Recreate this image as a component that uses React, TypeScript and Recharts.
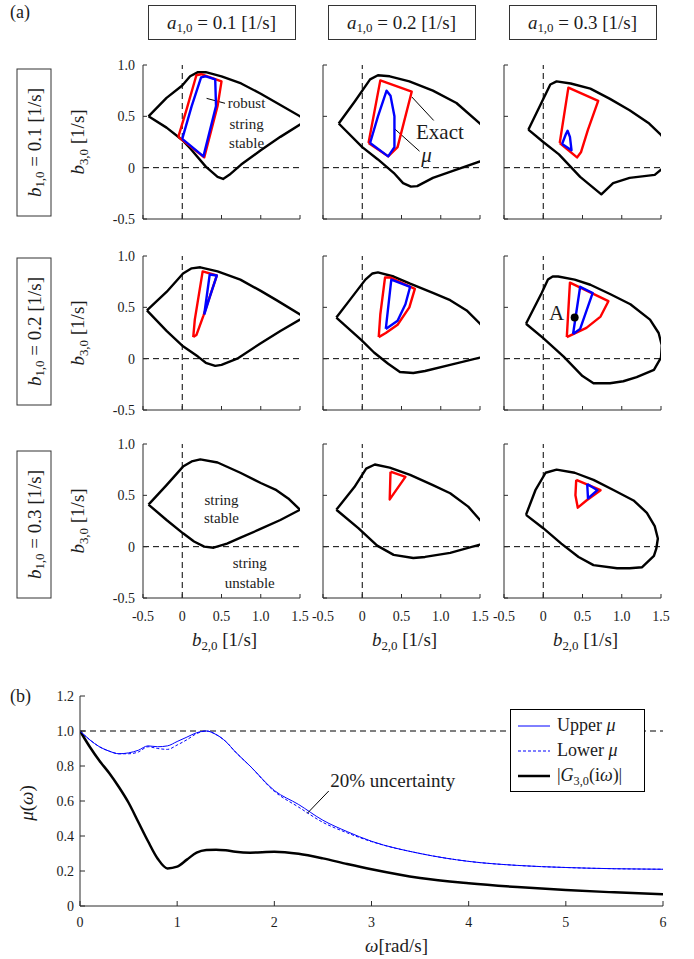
import {
  ComposedChart,
  Legend,
  Line,
  ReferenceLine,
  Scatter,
  ScatterChart,
  XAxis,
  YAxis,
} from "recharts";

const SERIF = "'Liberation Serif', 'DejaVu Serif', serif";
const INK = "#1c1c1c";
const FRAME = "#2b2b2b";
const RED = "#ff0000";
const BLUE = "#0000ff";

type Pair = [number, number];

// (a) boundaries in the (b2,0 , b3,0) plane, each a closed loop
const black11: Pair[] = [[-0.43, 0.5], [-0.2, 0.68], [0, 0.8], [0.1, 0.89], [0.2, 0.93], [0.3, 0.93], [0.5, 0.89], [0.75, 0.82], [1.0, 0.72], [1.25, 0.61], [1.5, 0.5], [1.62, 0.46], [1.5, 0.42], [1.25, 0.3], [1.0, 0.17], [0.75, 0.03], [0.6, -0.07], [0.52, -0.11], [0.45, -0.09], [0.3, 0.01], [0.1, 0.19], [0, 0.27], [-0.2, 0.39], [-0.43, 0.5]];
const red11: Pair[] = [[-0.05, 0.3], [0.06, 0.58], [0.18, 0.9], [0.24, 0.91], [0.5, 0.84], [0.45, 0.6], [0.28, 0.1], [-0.05, 0.3]];
const blue11: Pair[] = [[0, 0.28], [0.12, 0.6], [0.24, 0.88], [0.3, 0.89], [0.42, 0.86], [0.43, 0.6], [0.27, 0.11], [0, 0.28]];

const black12: Pair[] = [[-0.3, 0.43], [-0.1, 0.64], [0.1, 0.86], [0.2, 0.9], [0.35, 0.89], [0.6, 0.84], [0.9, 0.75], [1.2, 0.63], [1.5, 0.43], [1.62, 0.34], [1.62, 0.1], [1.5, 0.06], [1.2, -0.02], [0.9, -0.1], [0.7, -0.18], [0.62, -0.185], [0.52, -0.15], [0.4, -0.05], [0.2, 0.08], [0, 0.2], [-0.3, 0.43]];
const red12: Pair[] = [[0.08, 0.24], [0.23, 0.85], [0.63, 0.74], [0.45, 0.2], [0.33, 0.11], [0.08, 0.24]];
const blue12: Pair[] = [[0.1, 0.24], [0.2, 0.5], [0.31, 0.75], [0.36, 0.7], [0.41, 0.5], [0.41, 0.2], [0.33, 0.11], [0.1, 0.24]];

const black13: Pair[] = [[-0.19, 0.37], [0.09, 0.81], [0.17, 0.84], [0.35, 0.82], [0.6, 0.77], [0.85, 0.67], [1.1, 0.56], [1.35, 0.43], [1.5, 0.32], [1.56, 0.25], [1.56, 0.0], [1.5, -0.02], [1.42, -0.07], [1.1, -0.1], [0.89, -0.15], [0.74, -0.26], [0.47, -0.09], [0.2, 0.13], [0, 0.25], [-0.19, 0.37]];
const red13: Pair[] = [[0.21, 0.24], [0.32, 0.78], [0.7, 0.65], [0.57, 0.37], [0.48, 0.15], [0.43, 0.1], [0.21, 0.24]];
const blue13: Pair[] = [[0.24, 0.23], [0.29, 0.33], [0.31, 0.36], [0.34, 0.3], [0.36, 0.17], [0.24, 0.23]];

const black21: Pair[] = [[-0.45, 0.47], [-0.2, 0.65], [0.01, 0.83], [0.12, 0.88], [0.23, 0.89], [0.45, 0.85], [0.74, 0.77], [1.0, 0.66], [1.2, 0.57], [1.5, 0.43], [1.6, 0.4], [1.5, 0.38], [1.25, 0.27], [1.0, 0.15], [0.7, 0.0], [0.5, -0.06], [0.42, -0.07], [0.3, -0.04], [0.2, 0.02], [0.01, 0.12], [-0.2, 0.27], [-0.45, 0.47]];
const red21: Pair[] = [[0.14, 0.21], [0.16, 0.38], [0.26, 0.85], [0.44, 0.81], [0.27, 0.42], [0.18, 0.23], [0.14, 0.21]];
const blue21: Pair[] = [[0.28, 0.43], [0.35, 0.82], [0.44, 0.81], [0.35, 0.6], [0.28, 0.43]];

const black22: Pair[] = [[-0.33, 0.4], [-0.15, 0.58], [0.04, 0.77], [0.13, 0.83], [0.2, 0.84], [0.4, 0.8], [0.61, 0.73], [0.9, 0.64], [1.12, 0.57], [1.33, 0.47], [1.5, 0.34], [1.6, 0.25], [1.6, 0.03], [1.5, 0.01], [1.12, -0.06], [0.8, -0.12], [0.65, -0.14], [0.48, -0.13], [0.33, -0.05], [0.15, 0.06], [-0.01, 0.18], [-0.33, 0.4]];
const red22: Pair[] = [[0.21, 0.21], [0.23, 0.43], [0.29, 0.79], [0.36, 0.79], [0.67, 0.68], [0.6, 0.5], [0.45, 0.33], [0.3, 0.25], [0.21, 0.21]];
const blue22: Pair[] = [[0.3, 0.29], [0.37, 0.77], [0.61, 0.7], [0.55, 0.53], [0.45, 0.37], [0.3, 0.29]];

const black23: Pair[] = [[-0.22, 0.34], [-0.02, 0.64], [0.06, 0.77], [0.12, 0.8], [0.19, 0.8], [0.4, 0.77], [0.6, 0.72], [0.85, 0.63], [1.11, 0.53], [1.36, 0.38], [1.47, 0.25], [1.51, 0.13], [1.5, 0.01], [1.41, -0.11], [1.19, -0.18], [1.02, -0.22], [0.85, -0.24], [0.64, -0.24], [0.5, -0.17], [0.26, 0.02], [0, 0.2], [-0.22, 0.34]];
const red23: Pair[] = [[0.3, 0.21], [0.34, 0.74], [0.83, 0.56], [0.73, 0.41], [0.55, 0.3], [0.3, 0.21]];
const blue23: Pair[] = [[0.38, 0.24], [0.47, 0.7], [0.63, 0.64], [0.47, 0.29], [0.38, 0.24]];
const pointA: Pair[] = [[0.4, 0.4]];

const black31: Pair[] = [[-0.43, 0.41], [-0.2, 0.6], [0.01, 0.78], [0.12, 0.83], [0.23, 0.85], [0.45, 0.82], [0.74, 0.72], [1.0, 0.62], [1.2, 0.55], [1.35, 0.47], [1.5, 0.36], [1.25, 0.26], [0.99, 0.17], [0.75, 0.09], [0.57, 0.03], [0.4, -0.01], [0.28, 0.0], [0.15, 0.05], [0.01, 0.13], [-0.2, 0.26], [-0.43, 0.41]];

const black32: Pair[] = [[-0.33, 0.36], [-0.1, 0.58], [0.05, 0.76], [0.16, 0.8], [0.35, 0.77], [0.61, 0.7], [0.9, 0.6], [1.12, 0.52], [1.35, 0.39], [1.5, 0.26], [1.6, 0.18], [1.6, 0.04], [1.5, 0.02], [1.12, -0.06], [0.8, -0.1], [0.65, -0.11], [0.4, -0.08], [0.19, 0.01], [-0.05, 0.18], [-0.33, 0.36]];
const red32: Pair[] = [[0.36, 0.73], [0.55, 0.68], [0.35, 0.46], [0.36, 0.73]];

const black33: Pair[] = [[-0.22, 0.31], [-0.1, 0.55], [0.03, 0.72], [0.17, 0.75], [0.4, 0.72], [0.64, 0.65], [0.9, 0.55], [1.15, 0.45], [1.32, 0.33], [1.42, 0.2], [1.46, 0.08], [1.44, -0.02], [1.41, -0.09], [1.26, -0.2], [1.1, -0.21], [0.94, -0.21], [0.64, -0.18], [0.45, -0.1], [0.23, 0.03], [0, 0.18], [-0.22, 0.31]];
const red33: Pair[] = [[0.42, 0.65], [0.73, 0.55], [0.55, 0.45], [0.44, 0.38], [0.41, 0.5], [0.42, 0.65]];
const blue33: Pair[] = [[0.56, 0.61], [0.69, 0.55], [0.57, 0.47], [0.56, 0.61]];

type Note = { x: number; y: number; text: string; size?: number; italic?: boolean; anchor?: string };

const notes11: Note[] = [
  { x: 0.82, y: 0.627, text: "robust" },
  { x: 0.82, y: 0.43, text: "string" },
  { x: 0.82, y: 0.237, text: "stable" },
];
const notes12: Note[] = [
  { x: 0.99, y: 0.35, text: "Exact", size: 21 },
  { x: 0.82, y: 0.12, text: "μ", size: 21, italic: true },
];
const notes23: Note[] = [{ x: 0.17, y: 0.44, text: "A", size: 21 }];
const notes31: Note[] = [
  { x: 0.5, y: 0.455, text: "string" },
  { x: 0.5, y: 0.275, text: "stable" },
  { x: 0.86, y: -0.155, text: "string" },
  { x: 0.86, y: -0.35, text: "unstable" },
];

const leaders11: [Pair, Pair][] = [[[0.31, 0.675], [0.545, 0.627]]];
const leaders12: [Pair, Pair][] = [
  [[0.63, 0.69], [0.91, 0.46]],
  [[0.41, 0.38], [0.73, 0.16]],
];

const b20Ticks = [-0.5, 0, 0.5, 1, 1.5];
const b30Ticks = [-0.5, 0, 0.5, 1];
const a10Values = ["0.1", "0.2", "0.3"];
const b10Values = ["0.1", "0.2", "0.3"];

// (b) structured singular value vs frequency
const omega = [0, 0.1, 0.2, 0.3, 0.4, 0.5, 0.6, 0.7, 0.8, 0.9, 1.0, 1.1, 1.2, 1.3, 1.4, 1.5, 1.6, 1.75, 2.0, 2.25, 2.5, 2.75, 3.0, 3.5, 4.0, 4.5, 5.0, 5.5, 6.0];
const upperMu = [1.0, 0.95, 0.91, 0.885, 0.87, 0.875, 0.89, 0.915, 0.91, 0.915, 0.94, 0.965, 0.99, 1.0, 0.98, 0.94, 0.88, 0.8, 0.66, 0.58, 0.49, 0.425, 0.37, 0.3, 0.255, 0.232, 0.22, 0.213, 0.21];
const lowerMu = [1.0, 0.95, 0.91, 0.885, 0.87, 0.87, 0.88, 0.91, 0.9, 0.895, 0.92, 0.95, 0.985, 1.0, 0.98, 0.94, 0.88, 0.8, 0.655, 0.565, 0.478, 0.418, 0.368, 0.3, 0.255, 0.232, 0.22, 0.213, 0.21];
const gMag = [1.0, 0.91, 0.83, 0.76, 0.68, 0.59, 0.48, 0.37, 0.27, 0.215, 0.225, 0.265, 0.305, 0.32, 0.322, 0.318, 0.31, 0.305, 0.31, 0.298, 0.272, 0.24, 0.21, 0.16, 0.13, 0.108, 0.091, 0.078, 0.067];
const omegaTicks = [0, 1, 2, 3, 4, 5, 6];
const muTicks = [0, 0.2, 0.4, 0.6, 0.8, 1.0, 1.2];
const uncertaintyNote = [{ w: 2.575, y: 0.72, text: "20% uncertainty", size: 19, anchor: "start" }];

// layout of the 3x3 grid (plot area corners in page pixels)
const PLOT_W = 157;
const PLOT_H = 154;
const COL_LEFT = [143, 323, 504];
const ROW_TOP = [65, 256, 444];
const YAW = 44;
const PAD = 6;
const PAD_R = 16;
const XAH = 34;

const toPts = (a: Pair[]) => a.map(([x, y]) => ({ x, y }));
const fmt = (v: number) => (v === 0 ? "0" : v.toFixed(1));
const blank = () => "";
const tickStyle = { fill: INK, fontSize: 14, fontFamily: SERIF };

const Empty = () => <g />;
const Dot = (p: any) => <circle cx={p.cx} cy={p.cy} r={4} fill="#000" />;
const NoteText = (p: any) => {
  const n = p.payload;
  return (
    <text
      x={p.cx}
      y={p.cy}
      textAnchor={n.anchor ?? "middle"}
      dominantBaseline="central"
      fontFamily={SERIF}
      fontSize={n.size ?? 15}
      fontStyle={n.italic ? "italic" : "normal"}
      fill={INK}
    >
      {n.text}
    </text>
  );
};

interface PanelCfg {
  row: number;
  col: number;
  black: Pair[];
  red?: Pair[];
  blue?: Pair[];
  notes?: Note[];
  leaders?: [Pair, Pair][];
  dot?: Pair[];
}

const panels: PanelCfg[] = [
  { row: 0, col: 0, black: black11, red: red11, blue: blue11, notes: notes11, leaders: leaders11 },
  { row: 0, col: 1, black: black12, red: red12, blue: blue12, notes: notes12, leaders: leaders12 },
  { row: 0, col: 2, black: black13, red: red13, blue: blue13 },
  { row: 1, col: 0, black: black21, red: red21, blue: blue21 },
  { row: 1, col: 1, black: black22, red: red22, blue: blue22 },
  { row: 1, col: 2, black: black23, red: red23, blue: blue23, notes: notes23, dot: pointA },
  { row: 2, col: 0, black: black31, notes: notes31 },
  { row: 2, col: 1, black: black32, red: red32 },
  { row: 2, col: 2, black: black33, red: red33, blue: blue33 },
];

function Panel({ cfg }: { cfg: PanelCfg }) {
  const { row, col } = cfg;
  const loops = [
    { data: cfg.black, color: "#000" },
    { data: cfg.red, color: RED },
    { data: cfg.blue, color: BLUE },
  ].filter((l) => l.data);
  return (
    <div style={{ position: "absolute", left: COL_LEFT[col] - YAW, top: ROW_TOP[row] - PAD }}>
      <ScatterChart
        width={YAW + PLOT_W + PAD_R}
        height={PAD + PLOT_H + XAH}
        margin={{ top: PAD, right: PAD_R, bottom: 0, left: 0 }}
      >
        <XAxis
          xAxisId="b"
          type="number"
          dataKey="x"
          domain={[-0.5, 1.5]}
          ticks={b20Ticks}
          interval={0}
          allowDataOverflow
          height={XAH}
          tickSize={-4}
          tickMargin={17}
          tickFormatter={row === 2 ? fmt : blank}
          tick={tickStyle}
          stroke={FRAME}
        />
        <XAxis
          xAxisId="t"
          orientation="top"
          type="number"
          dataKey="x"
          domain={[-0.5, 1.5]}
          ticks={b20Ticks}
          interval={0}
          allowDataOverflow
          height={0}
          tickSize={-4}
          tickFormatter={blank}
          stroke={FRAME}
        />
        <YAxis
          yAxisId="l"
          type="number"
          dataKey="y"
          domain={[-0.5, 1]}
          ticks={b30Ticks}
          interval={0}
          allowDataOverflow
          width={YAW}
          tickSize={-4}
          tickMargin={12}
          tickFormatter={col === 0 ? fmt : blank}
          tick={tickStyle}
          stroke={FRAME}
        />
        <YAxis
          yAxisId="r"
          orientation="right"
          type="number"
          dataKey="y"
          domain={[-0.5, 1]}
          ticks={b30Ticks}
          interval={0}
          allowDataOverflow
          width={0}
          tickSize={-4}
          tickFormatter={blank}
          stroke={FRAME}
        />
        <ReferenceLine xAxisId="b" yAxisId="l" x={0} stroke="#000" strokeDasharray="6 4" />
        <ReferenceLine xAxisId="b" yAxisId="l" y={0} stroke="#000" strokeDasharray="6 4" />
        <Scatter xAxisId="t" yAxisId="r" data={toPts(cfg.black)} shape={Empty} isAnimationActive={false} />
        {loops.map((l, i) => (
          <Scatter
            key={i}
            xAxisId="b"
            yAxisId="l"
            data={toPts(l.data!)}
            fill={l.color}
            line={{ stroke: l.color, strokeWidth: 2.4, strokeLinejoin: "round" }}
            lineType="joint"
            shape={Empty}
            isAnimationActive={false}
          />
        ))}
        {(cfg.leaders ?? []).map((s, i) => (
          <ReferenceLine
            key={`ld${i}`}
            xAxisId="b"
            yAxisId="l"
            segment={[{ x: s[0][0], y: s[0][1] }, { x: s[1][0], y: s[1][1] }]}
            stroke="#000"
            strokeWidth={1}
          />
        ))}
        {cfg.dot && (
          <Scatter xAxisId="b" yAxisId="l" data={toPts(cfg.dot)} shape={Dot} isAnimationActive={false} />
        )}
        {cfg.notes && (
          <Scatter xAxisId="b" yAxisId="l" data={cfg.notes} shape={NoteText} isAnimationActive={false} />
        )}
      </ScatterChart>
    </div>
  );
}

function Sym({ base, sub }: { base: string; sub: string }) {
  return (
    <span>
      <i>{base}</i>
      <span style={{ fontSize: "0.68em", position: "relative", top: "0.3em" }}>{sub}</span>
    </span>
  );
}

const abs = (left: number, top: number, extra: any = {}) => ({
  position: "absolute" as const,
  left,
  top,
  whiteSpace: "nowrap" as const,
  fontFamily: SERIF,
  color: INK,
  ...extra,
});

const BOX_LEN = 148;
const BOX_THK = 35;
const COL_MID = COL_LEFT.map((l) => l + PLOT_W / 2);
const ROW_MID = ROW_TOP.map((t) => t + PLOT_H / 2);
const ROW_BOX_MID = [142, 331.5, 524];

const legendRows = [
  { color: BLUE, width: 1, dash: undefined as string | undefined, label: <>Upper <i>μ</i></> },
  { color: BLUE, width: 1, dash: "3 2", label: <>Lower <i>μ</i></> },
  {
    color: "#000",
    width: 2.5,
    dash: undefined,
    label: (
      <>
        |<Sym base="G" sub="3,0" />(i<i>ω</i>)|
      </>
    ),
  },
];

const MuLegend = () => (
  <div
    style={{
      border: "1px solid #000",
      background: "#fff",
      padding: "3px 6px 3px 6px",
      fontFamily: SERIF,
      fontSize: 18,
      color: INK,
    }}
  >
    {legendRows.map((r, i) => (
      <div key={i} style={{ display: "flex", alignItems: "center", height: 25 }}>
        <svg width={34} height={10} style={{ marginRight: 6 }}>
          <line x1={1} y1={5} x2={33} y2={5} stroke={r.color} strokeWidth={r.width} strokeDasharray={r.dash} />
        </svg>
        <span>{r.label}</span>
      </div>
    ))}
  </div>
);

const B_LEFT = 80;
const B_TOP = 696;
const B_W = 583;
const B_H = 210;
const B_YAW = 45;

function MuChart() {
  const rows = omega.map((w, i) => ({ w, upper: upperMu[i], lower: lowerMu[i], g: gMag[i] }));
  return (
    <div style={{ position: "absolute", left: B_LEFT - B_YAW, top: B_TOP - PAD }}>
      <ComposedChart
        width={B_YAW + B_W + PAD_R}
        height={PAD + B_H + 34}
        data={rows}
        margin={{ top: PAD, right: PAD_R, bottom: 0, left: 0 }}
      >
        <XAxis
          xAxisId="b"
          type="number"
          dataKey="w"
          domain={[0, 6]}
          ticks={omegaTicks}
          interval={0}
          allowDataOverflow
          height={34}
          tickSize={-5}
          tickMargin={16}
          tickFormatter={(v: number) => String(v)}
          tick={tickStyle}
          stroke={FRAME}
        />
        <XAxis
          xAxisId="t"
          orientation="top"
          type="number"
          dataKey="w"
          domain={[0, 6]}
          ticks={omegaTicks}
          interval={0}
          allowDataOverflow
          height={0}
          tickSize={-5}
          tickFormatter={blank}
          stroke={FRAME}
        />
        <YAxis
          yAxisId="l"
          type="number"
          dataKey="y"
          domain={[0, 1.2]}
          ticks={muTicks}
          interval={0}
          allowDataOverflow
          width={B_YAW}
          tickSize={-5}
          tickMargin={11}
          tickFormatter={fmt}
          tick={tickStyle}
          stroke={FRAME}
        />
        <YAxis
          yAxisId="r"
          orientation="right"
          type="number"
          domain={[0, 1.2]}
          ticks={muTicks}
          interval={0}
          allowDataOverflow
          width={0}
          tickSize={-5}
          tickFormatter={blank}
          stroke={FRAME}
        />
        <ReferenceLine xAxisId="b" yAxisId="l" y={1} stroke="#000" strokeDasharray="6 4" />
        <Line xAxisId="t" yAxisId="r" dataKey="g" stroke="none" dot={false} activeDot={false} isAnimationActive={false} legendType="none" />
        <Line xAxisId="b" yAxisId="l" type="monotone" dataKey="g" stroke="#000" strokeWidth={2.5} dot={false} isAnimationActive={false} />
        <Line xAxisId="b" yAxisId="l" type="monotone" dataKey="lower" stroke={BLUE} strokeWidth={1} strokeDasharray="3 2" dot={false} isAnimationActive={false} />
        <Line xAxisId="b" yAxisId="l" type="monotone" dataKey="upper" stroke={BLUE} strokeWidth={1} dot={false} isAnimationActive={false} />
        <ReferenceLine
          xAxisId="b"
          yAxisId="l"
          segment={[{ x: 2.56, y: 0.657 }, { x: 2.34, y: 0.53 }]}
          stroke="#000"
          strokeWidth={1}
        />
        <Scatter xAxisId="b" yAxisId="l" data={uncertaintyNote} shape={NoteText} isAnimationActive={false} />
        <Legend
          layout="vertical"
          align="center"
          verticalAlign="middle"
          content={MuLegend}
          wrapperStyle={{ left: 510 - (B_LEFT - B_YAW), top: 709 - (B_TOP - PAD), width: 135 }}
        />
      </ComposedChart>
    </div>
  );
}

export default function App() {
  return (
    <div style={{ position: "relative", width: 694, height: 959, background: "#fff", overflow: "hidden" }}>
      <style>{"body{margin:0}"}</style>
      <div style={abs(10, 2, { fontSize: 18 })}>(a)</div>
      <div style={abs(10, 686, { fontSize: 18 })}>(b)</div>

      {a10Values.map((v, i) => (
        <div
          key={`a${i}`}
          style={abs(COL_MID[i] - BOX_LEN / 2, 5, {
            width: BOX_LEN - 2,
            height: BOX_THK - 2,
            border: "1px solid #333",
            display: "flex",
            alignItems: "center",
            justifyContent: "center",
            fontSize: 19,
          })}
        >
          <Sym base="a" sub="1,0" />
          &nbsp;= {v} [1/s]
        </div>
      ))}

      {b10Values.map((v, i) => (
        <div
          key={`b${i}`}
          style={abs(33.5 - BOX_LEN / 2, ROW_BOX_MID[i] - BOX_THK / 2, {
            width: BOX_LEN - 2,
            height: BOX_THK - 2,
            border: "1px solid #333",
            display: "flex",
            alignItems: "center",
            justifyContent: "center",
            fontSize: 19,
            transform: "rotate(-90deg)",
          })}
        >
          <Sym base="b" sub="1,0" />
          &nbsp;= {v} [1/s]
        </div>
      ))}

      {ROW_MID.map((m, i) => (
        <div
          key={`yl${i}`}
          style={abs(78, m, { fontSize: 19, transform: "translate(-50%, -50%) rotate(-90deg)" })}
        >
          <Sym base="b" sub="3,0" /> [1/s]
        </div>
      ))}
      {COL_MID.map((m, i) => (
        <div key={`xl${i}`} style={abs(m + 3, 640, { fontSize: 19, transform: "translate(-50%, -50%)" })}>
          <Sym base="b" sub="2,0" /> [1/s]
        </div>
      ))}

      {panels.map((p, i) => (
        <Panel key={i} cfg={p} />
      ))}

      <MuChart />
      <div style={abs(27, 803, { fontSize: 19, transform: "translate(-50%, -50%) rotate(-90deg)" })}>
        <i>μ</i>(<i>ω</i>)
      </div>
      <div style={abs(365, 935, { fontSize: 19 })}>
        <i>ω</i>[rad/s]
      </div>
    </div>
  );
}
